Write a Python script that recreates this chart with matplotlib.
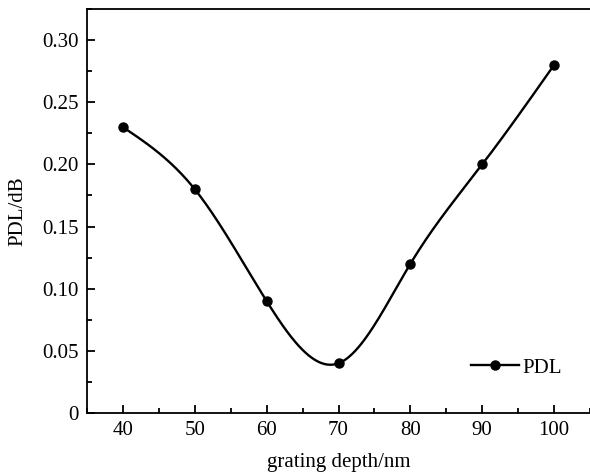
import numpy as np
import matplotlib
matplotlib.use("Agg")
import matplotlib.pyplot as plt
from matplotlib.ticker import MultipleLocator, FuncFormatter

depth = [40, 50, 60, 70, 80, 90, 100]
pdl = [0.23, 0.18, 0.09, 0.04, 0.12, 0.20, 0.28]
xticks = [40, 50, 60, 70, 80, 90, 100]
yticks = [0, 0.05, 0.10, 0.15, 0.20, 0.25, 0.30]


def natural_spline(x, y, n=400):
    x = np.asarray(x, float)
    y = np.asarray(y, float)
    k = len(x)
    h = np.diff(x)
    A = np.zeros((k, k))
    b = np.zeros(k)
    A[0, 0] = A[-1, -1] = 1
    for i in range(1, k - 1):
        A[i, i - 1] = h[i - 1]
        A[i, i] = 2 * (h[i - 1] + h[i])
        A[i, i + 1] = h[i]
        b[i] = 6 * ((y[i + 1] - y[i]) / h[i] - (y[i] - y[i - 1]) / h[i - 1])
    M = np.linalg.solve(A, b)
    xs = np.linspace(x[0], x[-1], n)
    idx = np.clip(np.searchsorted(x, xs) - 1, 0, k - 2)
    x0, x1 = x[idx], x[idx + 1]
    hh = x1 - x0
    ys = (M[idx] * (x1 - xs) ** 3 / (6 * hh) + M[idx + 1] * (xs - x0) ** 3 / (6 * hh)
          + (y[idx] / hh - M[idx] * hh / 6) * (x1 - xs)
          + (y[idx + 1] / hh - M[idx + 1] * hh / 6) * (xs - x0))
    return xs, ys


plt.rcParams['font.family'] = ['Liberation Serif', 'DejaVu Serif']

fig = plt.figure(figsize=(5.9, 4.76), dpi=100)
ax = fig.add_axes([0.1475, 0.1324, 0.8525, 0.8486])

xs, ys = natural_spline(depth, pdl)
ax.plot(xs, ys, color='black', lw=1.7)
ax.plot(depth, pdl, 'o', color='black', ms=6.5)
ax.plot([], [], '-o', color='black', lw=1.7, ms=6.5, label='PDL')

ax.set_xlim(35, 105)
ax.set_ylim(0, 0.325)
ax.set_xticks(xticks)
ax.set_yticks(yticks)
ax.xaxis.set_minor_locator(MultipleLocator(5))
ax.yaxis.set_minor_locator(MultipleLocator(0.025))
ax.yaxis.set_major_formatter(FuncFormatter(lambda v, p: '0' if abs(v) < 1e-9 else f'{v:.2f}'))

ax.spines['right'].set_visible(False)
for s in ['left', 'bottom', 'top']:
    ax.spines[s].set_linewidth(1.3)
ax.tick_params(which='both', direction='in', top=False, right=False, width=1.3,
               labelsize=15, colors='black')
ax.tick_params(which='major', length=6, pad=6)
ax.tick_params(which='minor', length=3.5)

ax.set_xlabel('grating depth/nm', fontsize=15, labelpad=9)
ax.set_ylabel('PDL/dB', fontsize=15, labelpad=11)

ax.legend(loc='center right', bbox_to_anchor=(0.965, 0.112), frameon=False, fontsize=15,
          handlelength=2.3, handletextpad=0.15, borderpad=0)

fig.savefig('out.png', dpi=100)
